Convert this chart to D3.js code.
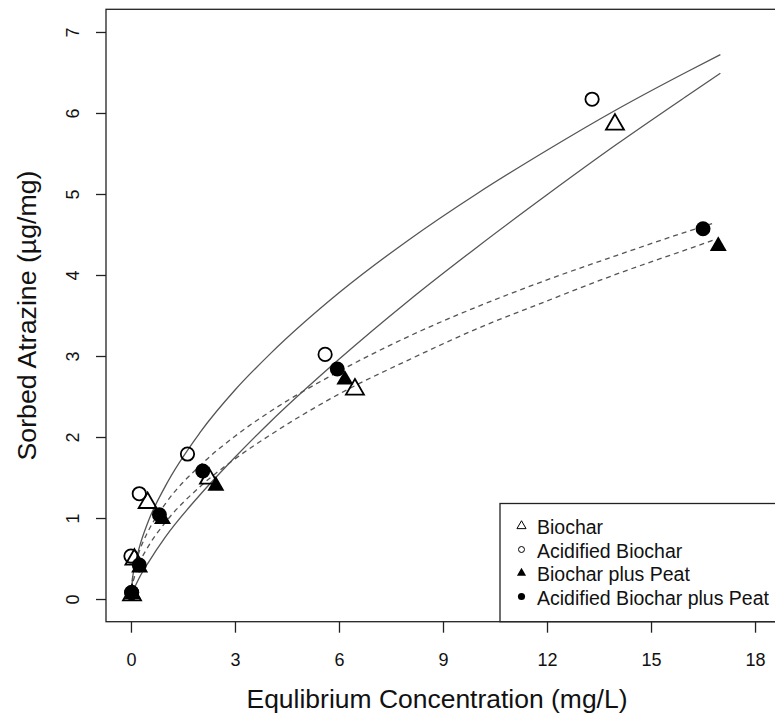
<!DOCTYPE html>
<html>
<head>
<meta charset="utf-8">
<script src="https://cdn.jsdelivr.net/npm/d3@7"></script>
<style>
  body { margin: 0; background: #fff; }
  svg { display: block; font-family: "Liberation Sans", Arial, sans-serif; }
</style>
</head>
<body>
<div id="chart"></div>
<script>
// observed points (Ce in mg/L, sorbed in ug/mg)
const seriesNames = ["Biochar", "Acidified Biochar", "Biochar plus Peat", "Acidified Biochar plus Peat"];

const biocharC = [0.03, 0.10, 0.48, 2.25, 6.46, 13.96];
const biocharQ = [0.06, 0.50, 1.20, 1.50, 2.60, 5.87];

const acidC = [0.02, 0.00, 0.24, 1.63, 5.60, 13.30];
const acidQ = [0.08, 0.53, 1.30, 1.79, 3.02, 6.17];

const peatC = [0.05, 0.25, 0.91, 2.45, 6.17, 16.94];
const peatQ = [0.07, 0.40, 1.00, 1.41, 2.72, 4.37];

const acidPeatC = [0.02, 0.24, 0.82, 2.07, 5.95, 16.50];
const acidPeatQ = [0.08, 0.42, 1.04, 1.58, 2.84, 4.57];

// fitted isotherm lines
const solidC = [0, 0.05, 0.1, 0.25, 0.5, 1, 2, 3, 4, 6, 8, 10, 12, 14, 16, 17];
const biocharFit = [0, 0.08, 0.135, 0.27, 0.45, 0.77, 1.29, 1.75, 2.18, 2.96, 3.68, 4.35, 4.99, 5.61, 6.20, 6.49];
const acidFit = [0, 0.27, 0.39, 0.65, 0.96, 1.40, 2.06, 2.58, 3.02, 3.78, 4.43, 5.01, 5.54, 6.04, 6.50, 6.72];

const dashedC = [0, 0.05, 0.1, 0.25, 0.5, 1, 2, 3, 4, 6, 8, 10, 12, 14, 16, 16.8];
const peatFit = [0, 0.19, 0.27, 0.45, 0.65, 0.95, 1.39, 1.73, 2.02, 2.53, 2.95, 3.34, 3.68, 4.01, 4.31, 4.43];
const acidPeatFit = [0, 0.28, 0.39, 0.60, 0.84, 1.18, 1.65, 2.01, 2.31, 2.81, 3.24, 3.61, 3.94, 4.24, 4.53, 4.64];

const xTicks = [0, 3, 6, 9, 12, 15, 18];
const yTicks = [0, 1, 2, 3, 4, 5, 6, 7];

const width = 775, height = 716;
const box = { left: 106, right: 780, top: 9.3, bottom: 621.7 };

const svg = d3.select("#chart").append("svg")
    .attr("width", width)
    .attr("height", height);

const x = d3.scaleLinear().domain([-0.72, 18.72]).range([box.left, box.right]);
const y = d3.scaleLinear().domain([-0.28, 7.28]).range([box.bottom, box.top]);

const ink = "#222";

// axes
const xAxis = svg.append("g")
    .attr("transform", `translate(0,${box.bottom})`)
    .call(d3.axisBottom(x).tickValues(xTicks).tickSize(11).tickFormat(d3.format("d")));
xAxis.select(".domain").remove();
xAxis.selectAll("line").attr("stroke", ink).attr("stroke-width", 1.3);
xAxis.selectAll("text").attr("font-size", 18).attr("fill", "#111").attr("dy", 0).attr("y", 44);

const yAxis = svg.append("g")
    .attr("transform", `translate(${box.left},0)`)
    .call(d3.axisLeft(y).tickValues(yTicks).tickSize(10).tickFormat(d3.format("d")));
yAxis.select(".domain").remove();
yAxis.selectAll("line").attr("stroke", ink).attr("stroke-width", 1.3);
yAxis.selectAll("text")
    .attr("font-size", 18).attr("fill", "#111")
    .attr("x", null).attr("dy", null)
    .attr("text-anchor", "middle")
    .attr("transform", "translate(-27,0) rotate(-90)");

// plot frame
svg.append("rect")
    .attr("x", box.left).attr("y", box.top)
    .attr("width", box.right - box.left).attr("height", box.bottom - box.top)
    .attr("fill", "none").attr("stroke", ink).attr("stroke-width", 1.3);

// axis titles
svg.append("text")
    .attr("x", (box.left + box.right) / 2 - 6).attr("y", 708)
    .attr("text-anchor", "middle")
    .attr("font-size", 25).attr("fill", "#111")
    .attr("textLength", 381).attr("lengthAdjust", "spacingAndGlyphs")
    .text("Equlibrium Concentration (mg/L)");

svg.append("text")
    .attr("transform", `translate(36,${(box.top + box.bottom) / 2}) rotate(-90)`)
    .attr("text-anchor", "middle")
    .attr("font-size", 25).attr("fill", "#111")
    .attr("textLength", 290).attr("lengthAdjust", "spacingAndGlyphs")
    .text("Sorbed Atrazine (\u00b5g/mg)");

// fitted curves
const line = d3.line()
    .x(d => x(d[0]))
    .y(d => y(d[1]))
    .curve(d3.curveMonotoneX);

const curves = [
    { c: solidC, q: biocharFit, dash: null },
    { c: solidC, q: acidFit, dash: null },
    { c: dashedC, q: peatFit, dash: "5,4" },
    { c: dashedC, q: acidPeatFit, dash: "5,4" }
];

svg.append("g").selectAll("path")
    .data(curves)
    .join("path")
    .attr("d", d => line(d.c.map((c, i) => [c, d.q[i]])))
    .attr("fill", "none")
    .attr("stroke", "#555")
    .attr("stroke-width", 1.3)
    .attr("stroke-dasharray", d => d.dash);

// points
const markers = [
    { type: d3.symbolTriangle, size: 140, filled: false },
    { type: d3.symbolCircle, size: 140, filled: false },
    { type: d3.symbolTriangle, size: 125, filled: true },
    { type: d3.symbolCircle, size: 175, filled: true }
];

const pointSets = [
    d3.zip(biocharC, biocharQ),
    d3.zip(acidC, acidQ),
    d3.zip(peatC, peatQ),
    d3.zip(acidPeatC, acidPeatQ)
];

pointSets.forEach((pts, k) => {
    const m = markers[k];
    svg.append("g").selectAll("path")
        .data(pts)
        .join("path")
        .attr("transform", d => `translate(${x(d[0])},${y(d[1]) + (m.type === d3.symbolTriangle ? 1 : 0)})`)
        .attr("d", d3.symbol(m.type, m.size))
        .attr("fill", m.filled ? "#000" : "none")
        .attr("stroke", "#000")
        .attr("stroke-width", m.filled ? 0 : 1.8);
});

// legend
const legend = svg.append("g");
const legTop = 503.5, legLeft = 500, rowH = 23.5;
legend.append("rect")
    .attr("x", legLeft).attr("y", legTop)
    .attr("width", box.right - legLeft).attr("height", box.bottom - legTop)
    .attr("fill", "#fff").attr("stroke", ink).attr("stroke-width", 1.3);

const legendSizes = [36, 28, 36, 40];
seriesNames.forEach((name, k) => {
    const cy = legTop + rowH * (k + 1);
    const m = markers[k];
    legend.append("path")
        .attr("transform", `translate(521.5,${cy - 1})`)
        .attr("d", d3.symbol(m.type, legendSizes[k]))
        .attr("fill", m.filled ? "#000" : "none")
        .attr("stroke", "#000")
        .attr("stroke-width", m.filled ? 0 : 1);
    legend.append("text")
        .attr("x", 537).attr("y", cy + 7)
        .attr("font-size", 19.5).attr("fill", "#111")
        .text(name);
});
</script>
</body>
</html>
